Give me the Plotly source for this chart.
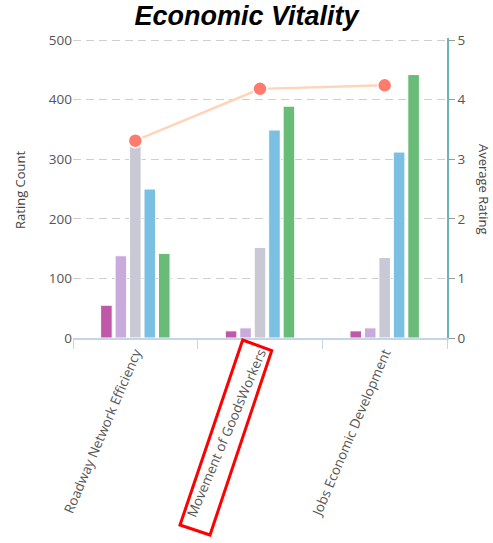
import plotly.graph_objects as go

categories = ["Roadway Network Efficiency", "Movement of GoodsWorkers", "Jobs Economic Development"]
rating_names = ["1", "2", "3", "4", "5"]
rating_counts = [
    [55, 12, 12],
    [138, 17, 17],
    [326, 152, 135],
    [250, 349, 312],
    [142, 389, 442],
]
average_rating = [3.31, 4.18, 4.24]
bar_colors = ["#c058aa", "#c9aadd", "#c9c9d5", "#7bbfe3", "#69bb78"]

W, H = 493, 543
L, R, T, B = 73, 46, 38, 205
pw, ph = W - L - R, H - T - B
top = 500 * ph / 298.0  # keep 500 two pixels below the plot top so its gridline shows

def px(x, y):
    return (x - L) / pw, (H - B - y) / ph

fig = go.Figure()
for name, vals, col in zip(rating_names, rating_counts, bar_colors):
    fig.add_trace(go.Bar(x=categories, y=vals, name=name, marker=dict(color=col, line=dict(color="white", width=1)),
                         yaxis="y"))
fig.add_trace(go.Scatter(x=categories, y=average_rating, yaxis="y2", mode="lines+markers",
                         line=dict(color="#ffd4b8", width=2.5),
                         marker=dict(color="#ff7b6e", size=14, line=dict(color="white", width=1.5))))

# highlight rectangle around second label
corners = [(242.7, 340), (271.7, 350.7), (210, 535), (180, 525)]
pts = [px(x, y) for x, y in corners]
path = "M " + " L ".join(f"{a:.4f},{b:.4f}" for a, b in pts) + " Z"

fig.update_layout(
    width=W, height=H,
    margin=dict(l=L, r=R, t=T, b=B),
    paper_bgcolor="white", plot_bgcolor="white",
    showlegend=False,
    barmode="group", bargap=0.42, bargroupgap=0.2,
    font=dict(family="Open Sans, Noto Sans, sans-serif", size=13, color="#555"),
    title=dict(text="<b><i>Economic Vitality</i></b>", x=0.5, xanchor="center", y=0.972, yanchor="middle",
               font=dict(family="Liberation Sans, Arial, sans-serif", size=27, color="black")),
    xaxis=dict(type="category", tickangle=-67, tickson="boundaries", ticks="outside", ticklen=9,
               tickcolor="#c5d5e5", showline=True, linecolor="#c5d5e5", linewidth=1.5,
               showgrid=False, tickfont=dict(size=13.5, color="#555")),
    yaxis=dict(range=[0, top], tickvals=[0, 100, 200, 300, 400, 500], showgrid=True, gridcolor="#cfcfcf",
               griddash="8px,5px", zeroline=False, showline=False, ticks="", tickfont=dict(size=13.5, color="#555")),
    yaxis2=dict(range=[0, top / 100], tickvals=[0, 1, 2, 3, 4, 5], overlaying="y", side="right", showgrid=False,
                zeroline=False, showline=True, linecolor="#6cb3b3", linewidth=1.5, ticks="outside", ticklen=6,
                tickcolor="#999", tickfont=dict(size=13.5, color="#555")),
    shapes=[dict(type="path", xref="paper", yref="paper", path=path, line=dict(color="red", width=3),
                 fillcolor="rgba(0,0,0,0)")],
    annotations=[
        dict(text="Rating Count", xref="paper", yref="paper", x=(20 - L) / pw, y=px(0, 189)[1], textangle=-90,
             xanchor="center", yanchor="middle",
             showarrow=False, font=dict(size=13, color="#444")),
        dict(text="Average Rating", xref="paper", yref="paper", x=(484 - L) / pw, y=px(0, 189)[1], textangle=90,
             xanchor="center", yanchor="middle",
             showarrow=False, font=dict(size=13, color="#444")),
    ],
)

fig.write_html("out.html")
